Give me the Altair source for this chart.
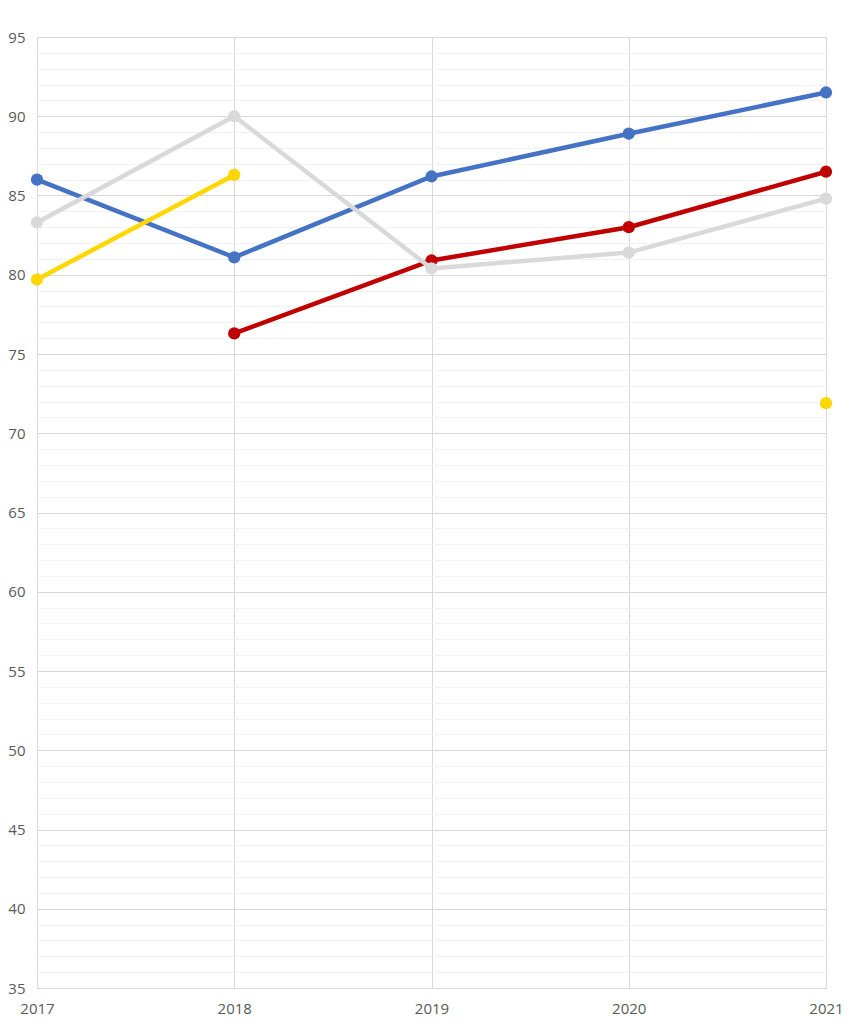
import altair as alt
import pandas as pd

years = [2017, 2018, 2019, 2020, 2021]
series_names = ["Blue", "Red", "Gray", "Yellow"]
blue = [86.0, 81.1, 86.2, 88.9, 91.5]
red = [None, 76.3, 80.9, 83.0, 86.5]
gray = [83.3, 90.0, 80.4, 81.4, 84.8]
yellow = [79.7, 86.3, None, None, 71.9]
colors = ["#4472C4", "#C00000", "#D9D9D9", "#FFD700"]
y_ticks = list(range(35, 96))

rows = []
for name, vals in zip(series_names, [blue, red, gray, yellow]):
    seg = 0
    for yr, v in zip(years, vals):
        if v is None:
            seg += 1
            continue
        rows.append({"year": yr, "value": v, "series": name, "seg": f"{name}-{seg}"})
df = pd.DataFrame(rows)

font = "Open Sans"
yscale = alt.Scale(domain=[35, 95], nice=False, zero=False)
xscale = alt.Scale(domain=[2017, 2021], nice=False, zero=False)
cscale = alt.Scale(domain=series_names, range=colors)

x_axis = alt.Axis(values=years, format="d", title=None, grid=True,
                  gridColor="#D9D9D9", gridWidth=1, ticks=False,
                  domain=True, domainColor="#D9D9D9", domainWidth=1,
                  labelPadding=13, labelFontSize=15, labelColor="#595959",
                  labelFont=font, labelFlush=False)
y_axis = alt.Axis(values=y_ticks, grid=True,
                  gridColor={"condition": {"test": "datum.value % 5 === 0", "value": "#D9D9D9"},
                             "value": "#F2F2F2"},
                  gridWidth=1, ticks=False, domain=False, title=None,
                  labelExpr="datum.value % 5 === 0 ? datum.label : ''",
                  labelPadding=12, labelFontSize=15, labelColor="#595959",
                  labelFont=font)

x_enc = alt.X("year:Q", scale=xscale, axis=x_axis)
y_enc = alt.Y("value:Q", scale=yscale, axis=y_axis)
c_enc = alt.Color("series:N", scale=cscale, legend=None)

base = alt.Chart(df)

lines = base.mark_line(strokeWidth=4.5).encode(
    x=x_enc, y=y_enc, color=c_enc, detail="seg:N", order=alt.Order("year:Q"),
)
points = base.mark_circle(size=150, opacity=1).encode(x=x_enc, y=y_enc, color=c_enc)

layers = []
for name in series_names:
    layers.append(lines.transform_filter(alt.datum.series == name))
    layers.append(points.transform_filter(alt.datum.series == name))

chart = alt.layer(*layers).properties(
    width=789, height=951,
    autosize=alt.AutoSizeParams(type="none"),
    padding={"left": 29, "top": 29, "right": 20, "bottom": 30},
).configure_view(stroke=None).configure(background="white")

chart.save("out.html", embed_options={"renderer": "svg", "actions": False})
